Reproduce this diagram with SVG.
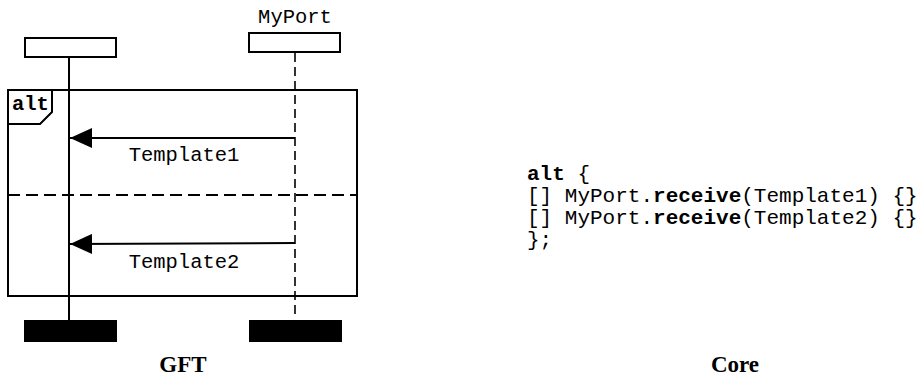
<svg xmlns="http://www.w3.org/2000/svg" width="924" height="376" viewBox="0 0 924 376">
<style>
.ln{stroke:#000;stroke-width:2;fill:none}
.dl{stroke:#000;stroke-width:1.6;fill:none;stroke-dasharray:9 5}
.sep{stroke:#000;stroke-width:2;fill:none;stroke-dasharray:12 6}
.hd{fill:#fff;stroke:#000;stroke-width:2}
.bar{fill:#000}
.mono{font-family:"Liberation Mono","Courier New",monospace;font-size:20.5px;fill:#000}
.code{font-family:"Liberation Mono","Courier New",monospace;font-size:21px;fill:#000}
.b{font-weight:bold}
.cap{font-family:"Liberation Serif","Times New Roman",serif;font-size:23px;font-weight:bold;fill:#000}
</style>
<defs>
<marker id="ah" markerWidth="22" markerHeight="20" refX="22" refY="10" orient="auto" markerUnits="userSpaceOnUse">
<path d="M0,0 L22,10 L0,20 Z" fill="#000"/>
</marker>
</defs>
<g id="frame-alt">
<rect x="8" y="90" width="349" height="206" class="ln"/>
<path d="M8,124 H40 L52,112 V90" class="ln"/>
<text x="12" y="110" class="mono b">alt</text>
<line x1="8" y1="195" x2="357" y2="195" class="sep"/>
</g>
<g id="instance-left">
<rect x="25" y="38" width="91" height="19" class="hd"/>
<line x1="69" y1="57" x2="69" y2="320" class="ln"/>
<rect x="24" y="320" width="93" height="22" class="bar"/>
</g>
<g id="instance-myport">
<text x="295" y="23" text-anchor="middle" class="mono">MyPort</text>
<rect x="249" y="33" width="91" height="19" class="hd"/>
<line x1="295" y1="53" x2="295" y2="318" class="dl"/>
<rect x="249" y="320" width="93" height="22" class="bar"/>
</g>
<g id="connectors">
<line x1="295" y1="138" x2="70" y2="138" class="ln" marker-end="url(#ah)"/>
<text x="184" y="161" text-anchor="middle" class="mono">Template1</text>
<line x1="295" y1="243" x2="70" y2="244" class="ln" marker-end="url(#ah)"/>
<text x="184" y="268" text-anchor="middle" class="mono">Template2</text>
</g>
<g id="code">
<text x="527" y="180" class="code"><tspan class="b">alt</tspan> {</text>
<text x="527" y="202" class="code">[] MyPort.<tspan class="b">receive</tspan>(Template1) {}</text>
<text x="527" y="224" class="code">[] MyPort.<tspan class="b">receive</tspan>(Template2) {}</text>
<text x="527" y="246" class="code">};</text>
</g>
<text x="183" y="372" text-anchor="middle" class="cap">GFT</text>
<text x="735" y="372" text-anchor="middle" class="cap">Core</text>
</svg>
